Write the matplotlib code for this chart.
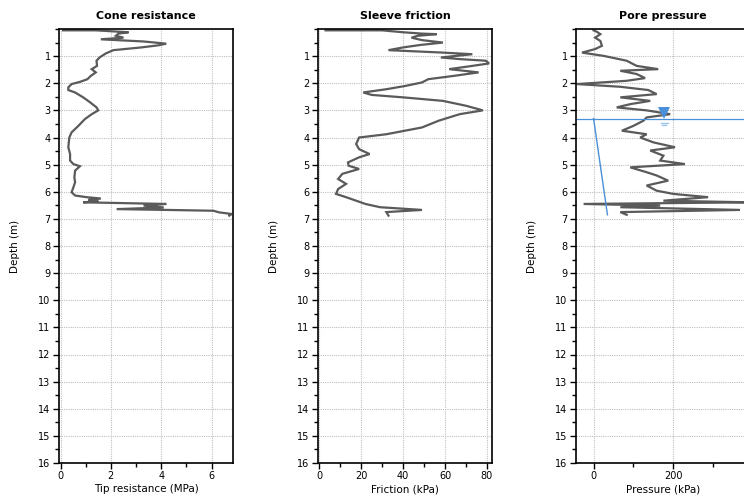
import numpy as np
import matplotlib
matplotlib.use("Agg")
import matplotlib.pyplot as plt
from matplotlib.ticker import MultipleLocator

# CPT sounding, depth in m
cone_depth = [0.05, 0.05, 0.12, 0.17, 0.25, 0.32, 0.38, 0.46, 0.54, 0.60, 0.68, 0.78, 0.90,
              1.05, 1.17, 1.36, 1.48, 1.60, 1.73, 1.85, 1.95, 2.03, 2.15, 2.25, 2.34, 2.52,
              2.70, 2.89, 3.00, 3.14, 3.32, 3.57, 3.81, 4.00, 4.36, 4.61, 4.85, 4.98, 5.06,
              5.22, 5.47, 5.65, 5.84, 6.02, 6.14, 6.20, 6.25, 6.30, 6.35, 6.39, 6.45, 6.51,
              6.58, 6.64, 6.67, 6.70, 6.76, 6.82, 6.88]
cone_qc = [0.1, 1.4, 2.7, 2.3, 2.2, 2.5, 1.6, 3.3, 4.2, 3.9, 3.2, 2.1, 1.8,
           1.55, 1.43, 1.45, 1.24, 1.40, 1.20, 1.07, 0.77, 0.44, 0.31, 0.31, 0.58, 0.90,
           1.17, 1.43, 1.50, 1.24, 0.97, 0.71, 0.44, 0.35, 0.31, 0.38, 0.38, 0.51, 0.77,
           0.58, 0.55, 0.58, 0.51, 0.44, 0.58, 1.04, 1.60, 1.10, 1.50, 0.90, 4.20, 3.30,
           4.10, 2.23, 4.20, 6.07, 6.30, 6.80, 6.70]

fric_depth = [0.05, 0.05, 0.12, 0.17, 0.19, 0.25, 0.32, 0.41, 0.50, 0.59, 0.68, 0.78, 0.87,
              0.93, 1.05, 1.11, 1.17, 1.27, 1.36, 1.48, 1.60, 1.73, 1.85, 1.97, 2.10, 2.22,
              2.34, 2.43, 2.52, 2.65, 2.83, 3.00, 3.14, 3.38, 3.63, 3.88, 4.00, 4.24, 4.43,
              4.61, 4.73, 4.92, 5.04, 5.16, 5.34, 5.53, 5.71, 5.90, 6.08, 6.20, 6.33, 6.45,
              6.57, 6.67, 6.75, 6.88]
fric_fs = [3, 30, 40, 49, 56, 47, 44, 49, 59, 48, 40, 33, 59,
           73, 58, 67, 79.5, 81, 73, 62, 76, 64, 52, 49, 41, 32,
           21, 25, 40, 59, 70, 78, 67, 57, 49, 32, 19, 17.6, 19,
           24, 19, 13.7, 14, 19, 11, 9, 12.8, 9, 8, 12.8, 17.6, 22,
           29, 49, 32, 33]

pore_depth = [0.05, 0.10, 0.19, 0.32, 0.44, 0.62, 0.74, 0.87, 0.99, 1.17, 1.36, 1.48, 1.54,
              1.66, 1.81, 1.91, 2.03, 2.13, 2.25, 2.40, 2.52, 2.65, 2.77, 2.89, 3.00, 3.14,
              3.26, 3.38, 3.57, 3.75, 3.88, 4.00, 4.18, 4.36, 4.48, 4.67, 4.85, 4.98, 5.10,
              5.28, 5.40, 5.59, 5.77, 5.96, 6.08, 6.20, 6.33, 6.39, 6.45, 6.51, 6.57, 6.67,
              6.75, 6.85]
pore_u2 = [0, 8, 17, 4, 17, 21, 4, -29, 25, 83, 108, 162, 67,
           108, 129, 83, -42, 67, 137, 158, 67, 142, 92, 58, 133, 192,
           133, 125, 100, 71, 133, 117, 150, 204, 142, 175, 167, 229, 92,
           133, 158, 187, 133, 158, 200, 287, 175, 390, -25, 167, 67, 367,
           67, 83]

water_level = 3.3
hydro_depth = [3.3, 6.85]
hydro_u0 = [0.0, 34.8]

line_color = "#5a5a5a"
blue = "#4a8fd8"

fig = plt.figure(figsize=(7.44, 5.0), dpi=100)
W, H = 744.0, 500.0
lefts = [59, 318, 576]
width = 174
top, bottom = 29, 463

panels = [
    ("Cone resistance", "Tip resistance (MPa)", cone_qc, cone_depth, (-0.06, 6.85), 2, 1),
    ("Sleeve friction", "Friction (kPa)", fric_fs, fric_depth, (-0.6, 82.4), 20, 10),
    ("Pore pressure", "Pressure (kPa)", pore_u2, pore_depth, (-44, 392), 200, 100),
]

for left, (title, xlabel, xs, ys, xlim, major, minor) in zip(lefts, panels):
    ax = fig.add_axes([left / W, 1 - bottom / H, width / W, (bottom - top) / H])
    ax.plot(xs, ys, color=line_color, lw=1.6, solid_joinstyle="miter")
    ax.set_xlim(*xlim)
    ax.set_ylim(16, 0)
    ax.set_yticks(range(1, 17))
    ax.yaxis.set_minor_locator(MultipleLocator(0.5))
    ax.xaxis.set_major_locator(MultipleLocator(major))
    ax.xaxis.set_minor_locator(MultipleLocator(minor))
    ax.tick_params(which="major", direction="out", length=4, width=1, labelsize=7, pad=2)
    ax.tick_params(which="minor", direction="out", length=3, width=1)
    ax.grid(True, which="major", linestyle=(0, (1, 1)), color="#c0c0c0", lw=0.8)
    for s in ax.spines.values():
        s.set_linewidth(1.2)
    ax.set_title(title, fontsize=8, fontweight="bold", pad=7)
    ax.set_xlabel(xlabel, fontsize=7.5, labelpad=2)
    ax.set_ylabel("Depth (m)", fontsize=7.5, labelpad=13)

    if title == "Pore pressure":
        ax.axhline(water_level, color=blue, lw=0.9)
        ax.plot(hydro_u0, hydro_depth, color=blue, lw=1.0)
        ax.plot([177], [3.1], marker="v", color=blue, markersize=9, markeredgewidth=0)
        ax.plot([168, 186], [3.45, 3.45], color="#9cc3ee", lw=1.0)
        ax.plot([172, 182], [3.53, 3.53], color="#9cc3ee", lw=1.0)

fig.savefig("out.png", dpi=100)
